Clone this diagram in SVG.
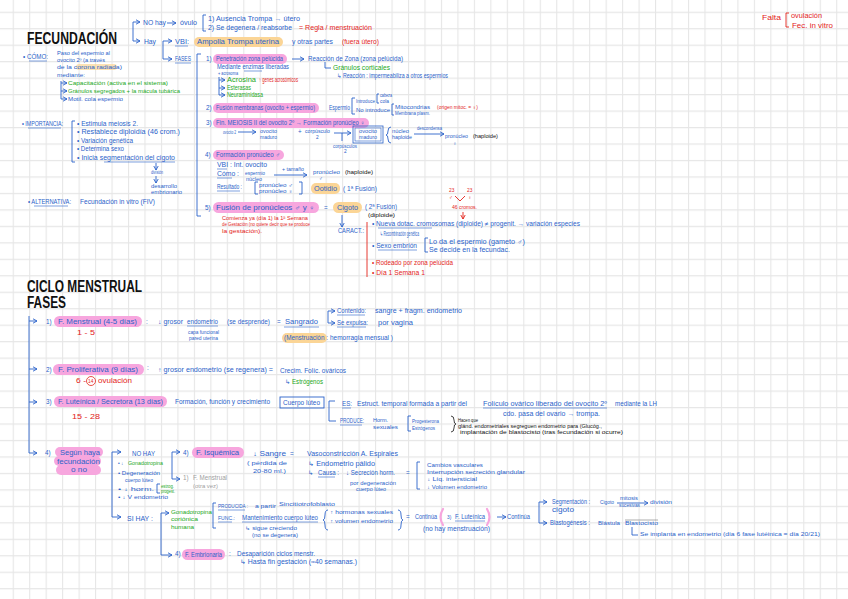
<svg xmlns="http://www.w3.org/2000/svg" width="848" height="599" viewBox="0 0 848 599">
<defs>
<pattern id="grid" x="12.7" y="11.7" width="16.47" height="16.47" patternUnits="userSpaceOnUse">
<path d="M0 0.5H16.47M0.5 0V16.47" stroke="#e6e6e6" stroke-width="1.2" fill="none"/>
</pattern>
<marker id="ar" markerUnits="userSpaceOnUse" markerWidth="6" markerHeight="6" refX="4.5" refY="3" orient="auto">
<path d="M0.5,0.8 L4.5,3 L0.5,5.2" fill="none" stroke="#2a62c9" stroke-width="0.9"/>
</marker>
<marker id="arr" markerUnits="userSpaceOnUse" markerWidth="6" markerHeight="6" refX="4.5" refY="3" orient="auto">
<path d="M0.5,0.8 L4.5,3 L0.5,5.2" fill="none" stroke="#e3241b" stroke-width="0.9"/>
</marker>
</defs>
<style>
text{font-family:"Liberation Sans","DejaVu Sans",sans-serif;font-size:6.3px;fill:#2a62c9}
.r{fill:#e3241b}.g{fill:#22a822}.k{fill:#111}.gy{fill:#a0a0a0}.s{font-size:4.8px}
.ttl{font-family:"Liberation Sans",sans-serif;font-weight:bold;fill:#111;font-size:16px}
.ln{stroke:#2a62c9;stroke-width:0.9;fill:none}
.lr{stroke:#e3241b;stroke-width:0.9;fill:none}
.lk{stroke:#111;stroke-width:0.8;fill:none}
.ul{stroke:#2a62c9;stroke-width:0.6}
.pk{fill:#f7a6de}.or{fill:#fbd596}
</style>
<rect width="848" height="599" fill="#fff"/>
<rect width="848" height="599" fill="url(#grid)"/>

<!-- ================= FECUNDACION ================= -->
<g id="title-fecundacion"><text class="ttl" x="27" y="44" font-size="17" textLength="90" lengthAdjust="spacingAndGlyphs">FECUNDACIÓN</text></g>

<g id="connectors">
<path class="ln" d="M133 22V41"/>
<path class="ln" d="M133 22H140" marker-end="url(#ar)"/>
<path class="ln" d="M133 41H140" marker-end="url(#ar)"/>
<path class="ln" d="M167 23H176" marker-end="url(#ar)"/>
<path class="ln" d="M206 15H203V31H206"/>
<path class="ln" d="M163 41V59"/>
<path class="ln" d="M163 41H172" marker-end="url(#ar)"/>
<path class="ln" d="M163 59H172" marker-end="url(#ar)"/>
<path class="ln" d="M201 54H197V216H201"/>
<path class="ln" d="M292 59H304" marker-end="url(#ar)"/>
<path class="ln" d="M325 62V68H331"/>
<path class="ln" d="M219 77V95"/>
<path class="ln" d="M219 80H225" marker-end="url(#ar)"/>
<path class="ln" d="M219 88H225" marker-end="url(#ar)"/>
<path class="ln" d="M219 95H225" marker-end="url(#ar)"/>
<path class="ln" d="M355 98H352V114H355"/>
<path class="ln" d="M379 94H377V103H379"/>
<path class="ln" d="M394 104H392V115H394"/>
<path class="ln" d="M238 132H256" marker-end="url(#ar)"/>
<path class="ln" d="M334 133H351" marker-end="url(#ar)"/>
<path class="ln" d="M342 133V141"/>
<path class="ln" d="M391 127Q388 127 388 131Q388 135 386 135Q388 135 388 139Q388 143 391 143"/>
<path class="ln" d="M414 134H444" marker-end="url(#ar)"/>
<path class="ln" d="M274 175H307" marker-end="url(#ar)"/>
<path class="ln" d="M258 182H255V194H258"/>
<path class="ln" d="M299 182H302V194H299"/>
<path class="ln" d="M342 215V227" marker-end="url(#ar)"/>
<path class="lr" d="M367 222V277"/>
<path class="ln" d="M428 238H425V252H428"/>
<path class="lr" d="M455 196L460 201L465 196"/>
<path class="lr" d="M463 212V219" marker-end="url(#arr)"/>
<path class="lr" d="M789 13H786V27H789"/>
<path class="ln" d="M61 81V99"/>
<path class="ln" d="M61 83H67" marker-end="url(#ar)"/>
<path class="ln" d="M61 91H67" marker-end="url(#ar)"/>
<path class="ln" d="M61 99H67" marker-end="url(#ar)"/>
<path class="ln" d="M75 121H72V162H75"/>
<path class="ln" d="M156 163V170" marker-end="url(#ar)"/>
<path class="ln" d="M156 176V183" marker-end="url(#ar)"/>
<!-- ciclo -->
<path class="ln" d="M29 316V453"/>
<path class="ln" d="M29 321H37" marker-end="url(#ar)"/>
<path class="ln" d="M29 369H37" marker-end="url(#ar)"/>
<path class="ln" d="M29 402H37" marker-end="url(#ar)"/>
<path class="ln" d="M29 453H37" marker-end="url(#ar)"/>
<path class="ln" d="M328 311V323"/>
<path class="ln" d="M328 311H335" marker-end="url(#ar)"/>
<path class="ln" d="M328 323H335" marker-end="url(#ar)"/>
<path class="ln" d="M335 401H329V421H336"/>
<path class="ln" d="M411 416H408V431H411"/>
<path class="lk" d="M451 416Q454 416 454 420Q454 424 456 424Q454 424 454 428Q454 432 451 432"/>
<path class="ln" d="M112 452V517"/>
<path class="ln" d="M112 452H121" marker-end="url(#ar)"/>
<path class="ln" d="M112 517H121" marker-end="url(#ar)"/>
<path class="ln" d="M172 452V479"/>
<path class="ln" d="M172 452H180" marker-end="url(#ar)"/>
<path class="ln" d="M172 479H180" marker-end="url(#ar)"/>
<path class="ln" d="M160 484H157V493H160"/>
<path class="ln" d="M420 462H417V489H420"/>
<path class="ln" d="M161 513V555"/>
<path class="ln" d="M161 513H169" marker-end="url(#ar)"/>
<path class="ln" d="M161 555H172" marker-end="url(#ar)"/>
<path class="ln" d="M216 503H213V528H216"/>
<path class="ln" d="M328 510Q325 510 325 515Q325 520 323 520Q325 520 325 525Q325 530 328 530"/>
<path class="ln" d="M398 510Q401 510 401 515Q401 520 403 520Q401 520 401 525Q401 530 398 530"/>
<path class="ln" d="M497 517H506" marker-end="url(#ar)"/>
<path class="ln" d="M539 502V523"/>
<path class="ln" d="M539 502H547" marker-end="url(#ar)"/>
<path class="ln" d="M539 523H547" marker-end="url(#ar)"/>
<path class="ln" d="M617 503H648" marker-end="url(#ar)"/>
<path class="ln" d="M632 527V535H638"/>
</g>

<g id="node-nohay">
<text x="143" y="25" textLength="23" lengthAdjust="spacingAndGlyphs">NO hay</text>
<text x="180" y="25" textLength="17" lengthAdjust="spacingAndGlyphs">óvulo</text>
<text x="208" y="21" textLength="92" lengthAdjust="spacingAndGlyphs">1)  Ausencia  Trompa → útero</text>
<text x="208" y="30" textLength="84" lengthAdjust="spacingAndGlyphs">2)  Se degenera / reabsorbe</text>
<text class="r" x="299" y="30" textLength="73" lengthAdjust="spacingAndGlyphs">=  Regla / menstruación</text>
</g>
<g id="node-hay">
<text x="144" y="44" font-size="6.8" textLength="12" lengthAdjust="spacingAndGlyphs">Hay</text>
<text x="175" y="44" textLength="14" lengthAdjust="spacingAndGlyphs">VBI:</text>
<line class="ul" x1="175" y1="46" x2="188" y2="46"/>
<rect class="or" x="194" y="37" width="89" height="10" rx="5"/>
<text x="197" y="44" textLength="82" lengthAdjust="spacingAndGlyphs">Ampolla  Trompa  uterina</text>
<text x="292" y="44" textLength="41" lengthAdjust="spacingAndGlyphs">y  otras  partes</text>
<text class="r" x="342" y="44" textLength="37" lengthAdjust="spacingAndGlyphs">(fuera útero)</text>
<text x="175" y="61" textLength="16" lengthAdjust="spacingAndGlyphs">FASES</text>
<line class="ul" x1="175" y1="63" x2="191" y2="63"/>
</g>

<g id="node-fase1">
<text x="206" y="61">1)</text>
<rect class="pk" x="213" y="54" width="74" height="10" rx="5"/>
<text x="216" y="61" textLength="67" lengthAdjust="spacingAndGlyphs">Penetración zona pelúcida</text>
<text x="308" y="61" textLength="95" lengthAdjust="spacingAndGlyphs">Reacción de Zona  (zona pelúcida)</text>
<text x="217" y="69" textLength="72" lengthAdjust="spacingAndGlyphs">Mediante enzimas liberadas</text>
<line class="ul" x1="244" y1="71" x2="262" y2="71"/>
<text x="218" y="75" class="s" textLength="20" lengthAdjust="spacingAndGlyphs">+ acrosoma</text>
<text class="g" x="227" y="82" textLength="29" lengthAdjust="spacingAndGlyphs">Acrosina</text>
<text class="r" x="259" y="82" textLength="39" lengthAdjust="spacingAndGlyphs">↑ genes acrosómicos</text>
<text class="g" x="227" y="90" textLength="24" lengthAdjust="spacingAndGlyphs">Esterasas</text>
<text class="g" x="227" y="97" textLength="36" lengthAdjust="spacingAndGlyphs">Neuraminidasa</text>
<text class="g" x="333" y="70" textLength="57" lengthAdjust="spacingAndGlyphs">Gránulos corticales</text>
<text x="337" y="78" textLength="111" lengthAdjust="spacingAndGlyphs">↳ Reacción : impermeabiliza a otros espermios</text>
</g>

<g id="node-fase2">
<text x="206" y="110">2)</text>
<rect class="pk" x="213" y="103" width="106" height="10" rx="5"/>
<text x="216" y="110" textLength="99" lengthAdjust="spacingAndGlyphs">Fusión membranas (ovocito + espermio)</text>
<text x="329" y="110" textLength="21" lengthAdjust="spacingAndGlyphs">Espermio</text>
<text x="356" y="103" class="s" textLength="19" lengthAdjust="spacingAndGlyphs">Introduce</text>
<text x="380" y="97" class="s" font-size="4" textLength="12" lengthAdjust="spacingAndGlyphs">cabeza</text>
<text x="380" y="103" class="s" font-size="4" textLength="9" lengthAdjust="spacingAndGlyphs">cola</text>
<text x="356" y="112" class="s" textLength="34" lengthAdjust="spacingAndGlyphs">No introduce</text>
<text x="395" y="109" class="s" textLength="35" lengthAdjust="spacingAndGlyphs">Mitocondrias</text>
<text x="395" y="115" class="s" textLength="35" lengthAdjust="spacingAndGlyphs">Membrana plasm.</text>
<text class="r s" x="437" y="109" textLength="41" lengthAdjust="spacingAndGlyphs">(origen mitoc. = ♀)</text>
</g>

<g id="node-fase3">
<text x="206" y="125">3)</text>
<rect class="pk" x="213" y="118" width="156" height="10" rx="5"/>
<text x="216" y="125" textLength="149" lengthAdjust="spacingAndGlyphs">Fin. MEIOSIS II del ovocito 2º → Formación pronúcleo ♀</text>
<text x="223" y="134" class="s" textLength="13" lengthAdjust="spacingAndGlyphs">ovocito 2</text>
<text x="260" y="133" class="s" textLength="17" lengthAdjust="spacingAndGlyphs">ovocito</text>
<text x="260" y="139" class="s" textLength="17" lengthAdjust="spacingAndGlyphs">maduro</text>
<text x="298" y="134">+</text>
<text x="305" y="133" class="s" textLength="25" lengthAdjust="spacingAndGlyphs">corpúsculo</text>
<text x="316" y="139" class="s">2</text>
<text x="333" y="148" class="s" textLength="24" lengthAdjust="spacingAndGlyphs">corpúsculos</text>
<text x="344" y="153" class="s">2</text>
<rect x="353" y="126" width="30" height="17" fill="none" stroke="#2a62c9" stroke-width="0.8"/>
<rect x="355" y="128" width="26" height="13" fill="none" stroke="#2a62c9" stroke-width="0.6"/>
<text x="359" y="133" class="s" textLength="18" lengthAdjust="spacingAndGlyphs">ovocito</text>
<text x="359" y="139" class="s" textLength="18" lengthAdjust="spacingAndGlyphs">maduro</text>
<text x="392" y="133" class="s" textLength="17" lengthAdjust="spacingAndGlyphs">núcleo</text>
<text x="392" y="139" class="s" textLength="20" lengthAdjust="spacingAndGlyphs">haploide</text>
<text x="417" y="130" class="s" textLength="25" lengthAdjust="spacingAndGlyphs">descondensa</text>
<text x="445" y="138" class="s" textLength="23" lengthAdjust="spacingAndGlyphs">pronúcleo</text>
<text x="453" y="145" class="s">♀</text>
<text class="k s" x="473" y="138" textLength="25" lengthAdjust="spacingAndGlyphs">(haploide)</text>
</g>

<g id="node-fase4">
<text x="205" y="157">4)</text>
<rect class="pk" x="213" y="150" width="71" height="10" rx="5"/>
<text x="216" y="157" textLength="64" lengthAdjust="spacingAndGlyphs">Formación pronúcleo ♂</text>
<text x="217" y="167" textLength="50" lengthAdjust="spacingAndGlyphs">VBI :  Int. ovocito</text>
<line class="ul" x1="217" y1="169" x2="227" y2="169"/>
<text x="217" y="176" textLength="22" lengthAdjust="spacingAndGlyphs">Cómo :</text>
<line class="ul" x1="217" y1="178" x2="232" y2="178"/>
<text x="245" y="175" class="s" textLength="20" lengthAdjust="spacingAndGlyphs">espermio</text>
<text x="246" y="181" class="s" textLength="16" lengthAdjust="spacingAndGlyphs">núcleo</text>
<text x="282" y="171" class="s" textLength="22" lengthAdjust="spacingAndGlyphs">+ tamaño</text>
<text x="313" y="174" class="s" textLength="27" lengthAdjust="spacingAndGlyphs">pronúcleo</text>
<text x="319" y="180" class="s">♂</text>
<text class="k s" x="345" y="174" textLength="28" lengthAdjust="spacingAndGlyphs">(haploide)</text>
<text x="217" y="189" textLength="25" lengthAdjust="spacingAndGlyphs">Resultado :</text>
<line class="ul" x1="217" y1="191" x2="240" y2="191"/>
<text x="259" y="187" class="s" textLength="34" lengthAdjust="spacingAndGlyphs">pronúcleo ♂</text>
<text x="259" y="193" class="s" textLength="34" lengthAdjust="spacingAndGlyphs">pronúcleo ♀</text>
<rect class="or" x="311" y="183" width="29" height="11" rx="5"/>
<text x="314" y="191" textLength="23" lengthAdjust="spacingAndGlyphs">Ootidio</text>
<text x="343" y="191" textLength="34" lengthAdjust="spacingAndGlyphs">( 1ª Fusión)</text>
</g>

<g id="node-fase5">
<text x="205" y="210">5)</text>
<rect class="pk" x="213" y="202" width="106" height="11" rx="5.5"/>
<text x="216" y="210" textLength="99" lengthAdjust="spacingAndGlyphs">Fusión de pronúcleos  ♂ y ♀</text>
<text x="324" y="210">=</text>
<rect class="or" x="333" y="202" width="29" height="11" rx="5.5"/>
<text x="337" y="210" textLength="21" lengthAdjust="spacingAndGlyphs">Cigoto</text>
<text x="365" y="209" textLength="32" lengthAdjust="spacingAndGlyphs">( 2ª Fusión)</text>
<text class="k s" x="368" y="217" textLength="27" lengthAdjust="spacingAndGlyphs">(diploide)</text>
<text class="r s" x="222" y="220" textLength="86" lengthAdjust="spacingAndGlyphs">Comienza ya (día 1) la 1ª Semana</text>
<text class="r s" x="222" y="226" textLength="88" lengthAdjust="spacingAndGlyphs">de Gestación  (no quiere decir que se produce</text>
<text class="r s" x="222" y="233" textLength="40" lengthAdjust="spacingAndGlyphs">la gestación).</text>
<text class="r s" x="449" y="192">23</text>
<text class="r s" x="449" y="199">♂</text>
<text class="r s" x="467" y="192">23</text>
<text class="r s" x="468" y="199">♀</text>
<text class="r s" x="452" y="209" textLength="25" lengthAdjust="spacingAndGlyphs">46 cromos.</text>
</g>

<g id="node-caract">
<text x="338" y="233" textLength="26" lengthAdjust="spacingAndGlyphs">CARACT.:</text>
<text x="372" y="226" textLength="208" lengthAdjust="spacingAndGlyphs">•  Nueva dotac. cromosomas  (diploide)  ≠  progenit.  →  variación especies</text>
<line class="ul" x1="378" y1="228" x2="432" y2="228"/>
<text x="380" y="236" textLength="39" lengthAdjust="spacingAndGlyphs">↳ Recombinación genética</text>
<text x="372" y="248" textLength="45" lengthAdjust="spacingAndGlyphs">•  Sexo embrión</text>
<line class="ul" x1="378" y1="250" x2="417" y2="250"/>
<text x="429" y="244" textLength="96" lengthAdjust="spacingAndGlyphs">Lo da el espermio  (gameto ♂)</text>
<text x="429" y="252" textLength="81" lengthAdjust="spacingAndGlyphs">Se decide en la fecundac.</text>
<text class="r" x="372" y="265" textLength="81" lengthAdjust="spacingAndGlyphs">•  Rodeado por zona pelúcida</text>
<text class="r" x="372" y="275" textLength="53" lengthAdjust="spacingAndGlyphs">•  Día 1  Semana 1</text>
</g>

<g id="node-falta">
<text class="r" x="762" y="20" textLength="19" lengthAdjust="spacingAndGlyphs">Falta</text>
<text class="r" x="791" y="18" textLength="31" lengthAdjust="spacingAndGlyphs">ovulación</text>
<text class="r" x="792" y="28" textLength="41" lengthAdjust="spacingAndGlyphs">Fec. in vitro</text>
</g>

<g id="node-como">
<text x="23" y="59" textLength="25" lengthAdjust="spacingAndGlyphs">•  CÓMO:</text>
<line class="ul" x1="29" y1="61" x2="47" y2="61"/>
<text x="57" y="55" class="s" textLength="53" lengthAdjust="spacingAndGlyphs">Paso del espermio al</text>
<text x="57" y="62" class="s" textLength="48" lengthAdjust="spacingAndGlyphs">ovocito 2º (a través</text>
<rect class="or" x="76" y="64" width="41" height="6" rx="3" opacity="0.7"/>
<text x="57" y="69" class="s" textLength="65" lengthAdjust="spacingAndGlyphs">de la  corona radiada)</text>
<text x="57" y="77" class="s" textLength="28" lengthAdjust="spacingAndGlyphs">mediante:</text>
<text class="g s" x="68" y="85" textLength="100" lengthAdjust="spacingAndGlyphs">Capacitación  (activa en el sistema)</text>
<text class="g s" x="68" y="93" textLength="112" lengthAdjust="spacingAndGlyphs">Gránulos segregados + la mácula tubárica</text>
<text class="s" x="68" y="101" textLength="55" lengthAdjust="spacingAndGlyphs">Motil. cola espermio</text>
</g>

<g id="node-importancia">
<text x="22" y="126" textLength="41" lengthAdjust="spacingAndGlyphs">•  IMPORTANCIA:</text>
<line class="ul" x1="28" y1="128" x2="61" y2="128"/>
<text x="77" y="126" textLength="61" lengthAdjust="spacingAndGlyphs">•  Estimula  meiosis 2.</text>
<text x="77" y="134" textLength="103" lengthAdjust="spacingAndGlyphs">•  Restablece  diploidía  (46 crom.)</text>
<text x="77" y="143" textLength="56" lengthAdjust="spacingAndGlyphs">•  Variación genética</text>
<text x="77" y="151" textLength="47" lengthAdjust="spacingAndGlyphs">•  Determina sexo</text>
<text x="77" y="160" textLength="98" lengthAdjust="spacingAndGlyphs">•  Inicia  segmentación del cigoto</text>
<line class="ul" x1="104" y1="162" x2="175" y2="162"/>
<text x="151" y="174" class="s" textLength="12" lengthAdjust="spacingAndGlyphs">división</text>
<text x="151" y="188" class="s" textLength="26" lengthAdjust="spacingAndGlyphs">desarrollo</text>
<text x="151" y="194" class="s" textLength="31" lengthAdjust="spacingAndGlyphs">embrionario</text>
</g>

<g id="node-alternativa">
<text x="28" y="204" textLength="43" lengthAdjust="spacingAndGlyphs">•  ALTERNATIVA:</text>
<line class="ul" x1="34" y1="206" x2="68" y2="206"/>
<text x="80" y="204" textLength="75" lengthAdjust="spacingAndGlyphs">Fecundación  in vitro  (FIV)</text>
</g>

<!-- ================= CICLO MENSTRUAL ================= -->
<g id="title-ciclo">
<text class="ttl" x="27" y="292" font-size="16" textLength="115" lengthAdjust="spacingAndGlyphs">CICLO MENSTRUAL</text>
<text class="ttl" x="27" y="308" font-size="16" textLength="39" lengthAdjust="spacingAndGlyphs">FASES</text>
</g>

<g id="node-menstrual">
<text x="46" y="324">1)</text>
<rect class="pk" x="54" y="316" width="88" height="11" rx="5.5"/>
<text x="58" y="324" textLength="79" lengthAdjust="spacingAndGlyphs">F. Menstrual   (4-5 días)</text>
<text x="146" y="324">:</text>
<text x="158" y="324" textLength="25" lengthAdjust="spacingAndGlyphs">↓ grosor</text>
<text x="187" y="324" textLength="31" lengthAdjust="spacingAndGlyphs">endometrio</text>
<line class="ul" x1="187" y1="326" x2="218" y2="326"/>
<text x="227" y="324" textLength="43" lengthAdjust="spacingAndGlyphs">(se desprende)</text>
<text x="277" y="324">=</text>
<text x="285" y="324" textLength="33" lengthAdjust="spacingAndGlyphs">Sangrado</text>
<line class="ul" x1="284" y1="327" x2="319" y2="327"/>
<text class="s" x="188" y="334" font-size="4" textLength="31" lengthAdjust="spacingAndGlyphs">capa funcional</text>
<text class="s" x="189" y="340" font-size="4" textLength="29" lengthAdjust="spacingAndGlyphs">pared uterina</text>
<text class="r" x="77" y="335" textLength="18" lengthAdjust="spacingAndGlyphs">1 - 5</text>
<text x="337" y="313" textLength="29" lengthAdjust="spacingAndGlyphs">Contenido:</text>
<line class="ul" x1="337" y1="315" x2="365" y2="315"/>
<text x="375" y="313" textLength="87" lengthAdjust="spacingAndGlyphs">sangre + fragm. endometrio</text>
<text x="337" y="325" textLength="31" lengthAdjust="spacingAndGlyphs">Se expulsa:</text>
<line class="ul" x1="337" y1="327" x2="366" y2="327"/>
<text x="378" y="325" textLength="35" lengthAdjust="spacingAndGlyphs">por vagina</text>
<rect class="or" x="282" y="333" width="45" height="10" rx="5"/>
<text x="284" y="340" textLength="44" lengthAdjust="spacingAndGlyphs">(Menstruación :</text>
<text x="330" y="340" textLength="63" lengthAdjust="spacingAndGlyphs">hemorragia mensual )</text>
</g>

<g id="node-proliferativa">
<text x="46" y="372">2)</text>
<rect class="pk" x="53" y="364" width="91" height="11" rx="5.5"/>
<text x="58" y="372" textLength="80" lengthAdjust="spacingAndGlyphs">F. Proliferativa   (9 días)</text>
<text x="147" y="370">:</text>
<text x="158" y="372" textLength="115" lengthAdjust="spacingAndGlyphs">↑ grosor endometrio (se regenera) =</text>
<text x="280" y="373" textLength="66" lengthAdjust="spacingAndGlyphs">Crecim. Folíc. ováricos</text>
<text x="285" y="384">↳</text>
<text class="g" x="292" y="384" textLength="31" lengthAdjust="spacingAndGlyphs">Estrógenos</text>
<text class="r" x="76" y="383" textLength="10" lengthAdjust="spacingAndGlyphs">6 -</text>
<circle cx="91" cy="381" r="4.5" fill="none" stroke="#e3241b" stroke-width="0.8"/>
<text class="r s" x="88" y="383">14</text>
<text class="r" x="98" y="383" textLength="34" lengthAdjust="spacingAndGlyphs">ovulación</text>
</g>

<g id="node-luteinica">
<text x="46" y="404">3)</text>
<rect class="pk" x="54" y="396" width="113" height="11" rx="5.5"/>
<text x="58" y="404" textLength="105" lengthAdjust="spacingAndGlyphs">F. Luteínica / Secretora   (13 días)</text>
<text x="175" y="404" textLength="95" lengthAdjust="spacingAndGlyphs">Formación, función y crecimiento</text>
<rect x="280" y="397" width="44" height="11" fill="none" stroke="#2a62c9" stroke-width="0.9"/>
<text x="283" y="405" textLength="37" lengthAdjust="spacingAndGlyphs">Cuerpo lúteo</text>
<text class="r" x="72" y="419" textLength="28" lengthAdjust="spacingAndGlyphs">15  - 28</text>
<text x="342" y="406" textLength="10" lengthAdjust="spacingAndGlyphs">ES:</text>
<line class="ul" x1="342" y1="408" x2="351" y2="408"/>
<text x="357" y="406" textLength="110" lengthAdjust="spacingAndGlyphs">Estruct. temporal  formada  a  partir  del</text>
<text x="483" y="406" textLength="124" lengthAdjust="spacingAndGlyphs">Folículo  ovárico  liberado  del  ovocito  2º</text>
<line class="ul" x1="483" y1="408" x2="607" y2="408"/>
<text x="615" y="406" textLength="42" lengthAdjust="spacingAndGlyphs">mediante  la  LH</text>
<text x="503" y="416" textLength="97" lengthAdjust="spacingAndGlyphs">cdo.  pasa  del  ovario  →  trompa.</text>
<text x="340" y="423" textLength="24" lengthAdjust="spacingAndGlyphs">PRODUCE:</text>
<line class="ul" x1="340" y1="425" x2="362" y2="425"/>
<text class="s" x="373" y="422" textLength="15" lengthAdjust="spacingAndGlyphs">Horm.</text>
<text class="s" x="373" y="429" textLength="25" lengthAdjust="spacingAndGlyphs">sexuales</text>
<text class="s" x="412" y="423" textLength="27" lengthAdjust="spacingAndGlyphs">Progesterona</text>
<text class="s" x="412" y="430" textLength="23" lengthAdjust="spacingAndGlyphs">Estrógenos</text>
<text class="k s" x="458" y="422" font-size="4.2" textLength="20" lengthAdjust="spacingAndGlyphs">Hacen que</text>
<text class="k s" x="458" y="428" font-size="4.2" textLength="144" lengthAdjust="spacingAndGlyphs">glánd. endometriales segreguen endometrio para (Glucóg.,</text>
<text class="k s" x="460" y="434" font-size="4.2" textLength="163" lengthAdjust="spacingAndGlyphs">implantación  de  blastocisto  (tras fecundación  si ocurre)</text>
</g>

<g id="node-segun">
<text x="45" y="455">4)</text>
<rect class="pk" x="55" y="447" width="48" height="10" rx="5"/>
<rect class="pk" x="54" y="456" width="47" height="10" rx="5"/>
<rect class="pk" x="56" y="465" width="45" height="10" rx="5"/>
<text x="60" y="455" textLength="40" lengthAdjust="spacingAndGlyphs">Según haya</text>
<text x="57" y="464" textLength="43" lengthAdjust="spacingAndGlyphs">fecundación</text>
<text x="71" y="472" textLength="16" lengthAdjust="spacingAndGlyphs">o no</text>
</g>

<g id="node-nohay-ciclo">
<text x="132" y="456" textLength="23" lengthAdjust="spacingAndGlyphs">NO HAY</text>
<text x="118" y="465" class="s">• ↓</text>
<text class="g s" x="128" y="465" textLength="35" lengthAdjust="spacingAndGlyphs">Gonadotropina</text>
<text x="118" y="475" class="s" textLength="42" lengthAdjust="spacingAndGlyphs">• Degeneración</text>
<text x="125" y="482" class="s" textLength="28" lengthAdjust="spacingAndGlyphs">cuerpo lúteo</text>
<text x="118" y="491" class="s" textLength="36" lengthAdjust="spacingAndGlyphs">• ↓ horm.</text>
<text class="g s" x="161" y="488" font-size="4" textLength="13" lengthAdjust="spacingAndGlyphs">estrog.</text>
<text class="g s" x="161" y="493" font-size="4" textLength="14" lengthAdjust="spacingAndGlyphs">progest.</text>
<text x="118" y="499" class="s" textLength="50" lengthAdjust="spacingAndGlyphs">• ↓ V endometrio</text>
</g>

<g id="node-isquemica">
<text x="183" y="455">4)</text>
<rect class="pk" x="192" y="447" width="52" height="11" rx="5.5"/>
<text x="196" y="455" textLength="43" lengthAdjust="spacingAndGlyphs">F. Isquémica</text>
<text x="253" y="456" textLength="33" lengthAdjust="spacingAndGlyphs">↓ Sangre</text>
<text x="290" y="456">=</text>
<text x="307" y="456" textLength="91" lengthAdjust="spacingAndGlyphs">Vasoconstricción  A. Espirales</text>
<text x="247" y="465" class="s" textLength="40" lengthAdjust="spacingAndGlyphs">( pérdida de</text>
<text x="253" y="473" class="s" textLength="33" lengthAdjust="spacingAndGlyphs">20-80 ml.)</text>
<text x="308" y="466" textLength="67" lengthAdjust="spacingAndGlyphs">↳ Endometrio pálido</text>
<text x="308" y="475">↳</text>
<text x="318" y="475" textLength="21" lengthAdjust="spacingAndGlyphs">Causa :</text>
<line class="ul" x1="318" y1="477" x2="335" y2="477"/>
<text x="346" y="475" textLength="49" lengthAdjust="spacingAndGlyphs">↓ Secreción horm.</text>
<text x="406" y="475">=</text>
<text class="s" x="350" y="485" textLength="46" lengthAdjust="spacingAndGlyphs">por degeneración</text>
<text class="s" x="356" y="491" textLength="30" lengthAdjust="spacingAndGlyphs">cuerpo lúteo</text>
<text class="s" x="427" y="467" textLength="56" lengthAdjust="spacingAndGlyphs">Cambios vasculares</text>
<text class="s" x="427" y="474" textLength="98" lengthAdjust="spacingAndGlyphs">Interrupción secreción glandular</text>
<text class="s" x="427" y="481" textLength="50" lengthAdjust="spacingAndGlyphs">↓ Líq. intersticial</text>
<text class="s" x="427" y="489" textLength="60" lengthAdjust="spacingAndGlyphs">↓ Volumen endometrio</text>
<text class="gy" x="183" y="480">1)</text>
<text class="gy" x="193" y="480" textLength="34" lengthAdjust="spacingAndGlyphs">F. Menstrual</text>
<text class="gy s" x="193" y="488" textLength="25" lengthAdjust="spacingAndGlyphs">(otra vez)</text>
</g>

<g id="node-sihay">
<text x="127" y="521" textLength="26" lengthAdjust="spacingAndGlyphs">SI HAY :</text>
<text class="g s" x="171" y="514" textLength="41" lengthAdjust="spacingAndGlyphs">Gonadotropina</text>
<text class="g s" x="171" y="521" textLength="27" lengthAdjust="spacingAndGlyphs">coriónica</text>
<text class="g s" x="171" y="529" textLength="23" lengthAdjust="spacingAndGlyphs">humana</text>
<text x="218" y="508" class="s" textLength="30" lengthAdjust="spacingAndGlyphs">PRODUCIDA :</text>
<line class="ul" x1="218" y1="510" x2="245" y2="510"/>
<text x="255" y="508" class="s" textLength="21" lengthAdjust="spacingAndGlyphs">a partir</text>
<text x="279" y="506" class="s" font-size="4" textLength="56" lengthAdjust="spacingAndGlyphs">Sincitiotrofoblasto</text>
<text x="218" y="520" class="s" textLength="17" lengthAdjust="spacingAndGlyphs">FUNC.:</text>
<line class="ul" x1="218" y1="522" x2="232" y2="522"/>
<text x="242" y="520" textLength="76" lengthAdjust="spacingAndGlyphs">Mantenimiento cuerpo lúteo</text>
<line class="ul" x1="242" y1="522" x2="318" y2="522"/>
<text x="245" y="530" class="s" textLength="52" lengthAdjust="spacingAndGlyphs">↳ sigue creciendo</text>
<text x="252" y="537" class="s" textLength="46" lengthAdjust="spacingAndGlyphs">(no se degenera)</text>
<text x="330" y="514" class="s" textLength="63" lengthAdjust="spacingAndGlyphs">↑ hormonas sexuales</text>
<text x="330" y="523" class="s" textLength="63" lengthAdjust="spacingAndGlyphs">↑ volumen endometrio</text>
<text x="406" y="519">=</text>
<text x="415" y="519" textLength="22" lengthAdjust="spacingAndGlyphs">Continúa</text>
<path d="M443 509Q438 517 443 525" fill="none" stroke="#f7a6de" stroke-width="2.2" stroke-linecap="round"/>
<path d="M487 509Q492 517 487 525" fill="none" stroke="#f7a6de" stroke-width="2.2" stroke-linecap="round"/>
<text x="447" y="519" class="s">3)</text>
<text x="455" y="519" textLength="30" lengthAdjust="spacingAndGlyphs">F. Luteínica</text>
<line class="ul" x1="455" y1="521" x2="485" y2="521"/>
<text x="507" y="519" textLength="23" lengthAdjust="spacingAndGlyphs">Continúa</text>
<text x="423" y="531" textLength="67" lengthAdjust="spacingAndGlyphs">(no  hay  menstruación)</text>
<text x="552" y="504" textLength="38" lengthAdjust="spacingAndGlyphs">Segmentación :</text>
<text x="552" y="512" textLength="22" lengthAdjust="spacingAndGlyphs">cigoto</text>
<text x="600" y="504" class="s" textLength="14" lengthAdjust="spacingAndGlyphs">Cigoto</text>
<text x="620" y="500" class="s" font-size="3.8" textLength="18" lengthAdjust="spacingAndGlyphs">mitosis</text>
<text x="619" y="507" class="s" font-size="3.8" textLength="21" lengthAdjust="spacingAndGlyphs">sucesivas</text>
<text x="650" y="504" class="s" textLength="22" lengthAdjust="spacingAndGlyphs">división</text>
<text x="550" y="525" textLength="40" lengthAdjust="spacingAndGlyphs">Blastogénesis :</text>
<text x="598" y="525" class="s" textLength="22" lengthAdjust="spacingAndGlyphs">Blástula</text>
<text x="625" y="525" class="s" textLength="33" lengthAdjust="spacingAndGlyphs">Blastocisto</text>
<line x1="625" y1="520" x2="658" y2="520" stroke="#777" stroke-width="0.6"/>
<text x="640" y="536" class="s" textLength="180" lengthAdjust="spacingAndGlyphs">Se implanta en endometrio  (día 6  fase lutéinica  =  día 20/21)</text>
</g>

<g id="node-embrionaria">
<text x="175" y="556">4)</text>
<rect class="pk" x="182" y="549" width="43" height="11" rx="5.5"/>
<text x="185" y="557" textLength="37" lengthAdjust="spacingAndGlyphs">F. Embrionaria</text>
<text x="229" y="556">:</text>
<text x="237" y="556" textLength="78" lengthAdjust="spacingAndGlyphs">Desaparición  ciclos  menstr.</text>
<text x="240" y="564" textLength="117" lengthAdjust="spacingAndGlyphs">↳ Hasta fin gestación  (≈40 semanas.)</text>
</g>
</svg>
